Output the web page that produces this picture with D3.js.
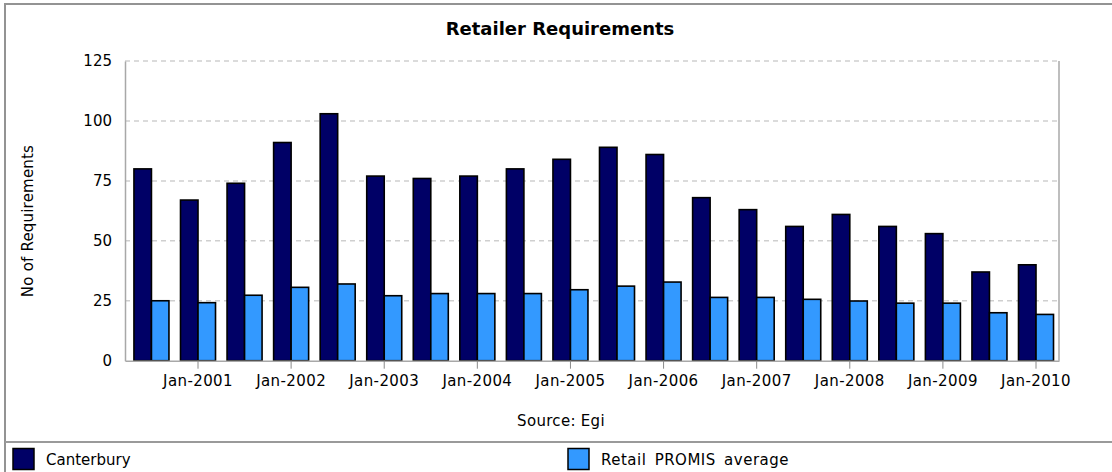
<!DOCTYPE html>
<html>
    <head>
        <meta charset="utf-8">
        <title>Retailer Requirements</title>
        <script src="https://d3js.org/d3.v7.min.js"></script>
        <style>
            body { margin: 0; background: #fff; }
            svg text { font-family: "DejaVu Sans", Verdana, sans-serif; fill: #000; }
        </style>
    </head>
    <body>
        <svg class="chart" width="1112" height="472"></svg>

        <script>
            // Half-yearly periods
            const periods = ["Jul-2000", "Jan-2001", "Jul-2001", "Jan-2002", "Jul-2002", "Jan-2003", "Jul-2003",
                "Jan-2004", "Jul-2004", "Jan-2005", "Jul-2005", "Jan-2006", "Jul-2006", "Jan-2007", "Jul-2007",
                "Jan-2008", "Jul-2008", "Jan-2009", "Jul-2009", "Jan-2010"]
            const canterbury = [80, 67, 74, 91, 103, 77, 76, 77, 80, 84, 89, 86, 68, 63, 56, 61, 56, 53, 37, 40]
            const promisAvg = [25, 24.2, 27.3, 30.6, 32, 27.1, 28, 28, 28, 29.6, 31.1, 32.8, 26.4, 26.4, 25.6, 24.9, 24, 24, 20, 19.3]
            const seriesNames = ["Canterbury", "Retail PROMIS average"]
            const seriesColors = ["#000066", "#3399ff"]
            const yTicks = [0, 25, 50, 75, 100, 125]
            const janTicks = periods.filter(p => p.startsWith("Jan"))

            const svg = d3.select("svg.chart")

            // frame
            svg.append("rect")
                .attr("x", 5).attr("y", 4)
                .attr("width", 1200).attr("height", 600)
                .attr("fill", "none")
                .attr("stroke", "#939393")
                .attr("stroke-width", 2)

            const plot = { left: 125, right: 1059, top: 61, bottom: 360.7 }

            const x = d3.scaleBand()
                .domain(periods)
                .range([plot.left, plot.right])
                .paddingInner(0.248)
                .paddingOuter(0.155)
                .align(0.62)

            const xSub = d3.scaleBand()
                .domain([0, 1])
                .range([0, x.bandwidth()])

            const y = d3.scaleLinear()
                .domain([0, 125])
                .range([plot.bottom, plot.top])

            // gridlines
            svg.append("g")
                .selectAll("line")
                .data(yTicks.filter(t => t > 0))
                .join("line")
                    .attr("x1", plot.left).attr("x2", plot.right)
                    .attr("y1", d => y(d)).attr("y2", d => y(d))
                    .attr("stroke", "#cfcfcf")
                    .attr("stroke-width", 1.5)
                    .attr("stroke-dasharray", "5,4")

            // right border line of plot
            svg.append("line")
                .attr("x1", plot.right).attr("x2", plot.right)
                .attr("y1", plot.top).attr("y2", plot.bottom)
                .attr("stroke", "#a8a8a8").attr("stroke-width", 1.5)

            // y axis
            const yAxis = svg.append("g")
                .attr("transform", "translate(" + plot.left + ",0)")
                .call(d3.axisLeft(y).tickValues(yTicks).tickSize(0).tickPadding(13))
            yAxis.select(".domain").attr("stroke", "#a8a8a8").attr("stroke-width", 1.5)
            yAxis.selectAll("text").style("font-size", "15px").attr("fill", "#000")

            // bars
            const series = [canterbury, promisAvg]
            series.forEach(function(vals, s) {
                svg.append("g")
                    .selectAll("rect")
                    .data(vals)
                    .join("rect")
                        .attr("x", (d, i) => x(periods[i]) + xSub(s))
                        .attr("y", d => y(d))
                        .attr("width", xSub.bandwidth())
                        .attr("height", d => y(0) - y(d))
                        .attr("fill", seriesColors[s])
                        .attr("stroke", "#000")
                        .attr("stroke-width", 1.6)
            })

            // x axis
            const xAxis = svg.append("g")
                .attr("transform", "translate(0," + plot.bottom + ")")
                .call(d3.axisBottom(x).tickValues(janTicks).tickSize(8).tickPadding(7).tickSizeOuter(0))
            xAxis.select(".domain").attr("stroke", "#a8a8a8").attr("stroke-width", 1.5)
            xAxis.selectAll(".tick line").attr("stroke", "#8a8a8a")
            xAxis.selectAll("text")
                .style("font-size", "15px")
                .style("letter-spacing", "0.4px")
                .attr("fill", "#000")

            // title
            svg.append("text")
                .attr("x", 560).attr("y", 35)
                .attr("text-anchor", "middle")
                .style("font-size", "18px")
                .style("font-weight", "bold")
                .text("Retailer Requirements")

            // y label
            svg.append("text")
                .attr("transform", "translate(33,221) rotate(-90)")
                .attr("text-anchor", "middle")
                .style("font-size", "15px")
                .style("letter-spacing", "0.2px")
                .text("No of Requirements")

            // source
            svg.append("text")
                .attr("x", 561).attr("y", 426)
                .attr("text-anchor", "middle")
                .style("font-size", "15px")
                .style("letter-spacing", "0.3px")
                .text("Source: Egi")

            // legend separator
            svg.append("line")
                .attr("x1", 5).attr("x2", 1112)
                .attr("y1", 442).attr("y2", 442)
                .attr("stroke", "#9a9a9a").attr("stroke-width", 2)

            const legendX = [13, 568]
            const legend = svg.append("g")
                .selectAll("g")
                .data(seriesNames)
                .join("g")
                    .attr("transform", (d, i) => "translate(" + legendX[i] + ",448.5)")
            legend.append("rect")
                .attr("width", 21).attr("height", 21)
                .attr("fill", (d, i) => seriesColors[i])
                .attr("stroke", "#000").attr("stroke-width", 1.5)
            legend.append("text")
                .attr("x", 33).attr("y", 16.5)
                .style("font-size", "15px")
                .style("letter-spacing", (d, i) => i === 1 ? "0.5px" : "0px")
                .style("word-spacing", (d, i) => i === 1 ? "3px" : "0px")
                .text(d => d)
        </script>
    </body>
</html>
